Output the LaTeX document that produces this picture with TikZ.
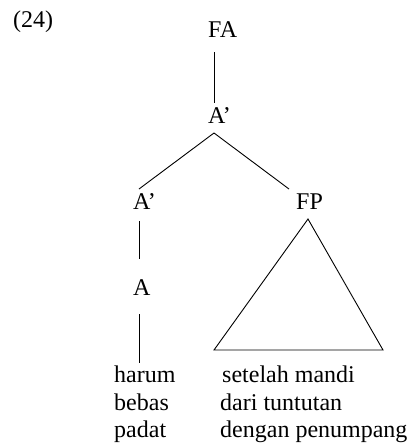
\documentclass[tikz,border=0pt]{standalone}
\usepackage{fontspec}
\setmainfont{Liberation Serif}
\begin{document}
\begin{tikzpicture}[x=1pt,y=-1pt,
  lbl/.style={inner sep=0pt,anchor=base west,font=\fontsize{24}{28}\selectfont},
  edge/.style={line width=0.9pt}]
\useasboundingbox (0,0) rectangle (418,445);
\node[lbl] (num) at (13,27) {(24)};
\node[lbl] (fa) at (208,37) {FA};
\node[lbl] (ap1) at (208,123) {A’};
\node[lbl] (ap2) at (133,209) {A’};
\node[lbl] (fp) at (296,209) {FP};
\node[lbl] (a) at (133,295) {A};
\node[lbl] (w1) at (114,382) {harum};
\node[lbl] (w2) at (114,410) {bebas};
\node[lbl] (w3) at (114,437) {padat};
\node[lbl] (p1) at (222,382) {setelah mandi};
\node[lbl] (p2) at (220,410) {dari tuntutan};
\node[lbl] (p3) at (220,437) {dengan penumpang};
% connector end points
\coordinate (fab) at (214,52);
\coordinate (ap1t) at (214,103);
\coordinate (ap1b) at (214,133);
\coordinate (ap2t) at (139,189);
\coordinate (fpt) at (289,189);
\coordinate (ap2b) at (139,221);
\coordinate (at) at (139,259);
\coordinate (ab) at (139,314);
\coordinate (w1t) at (139,363);
\coordinate (tri1) at (308,219);
\coordinate (tri2) at (214,350);
\coordinate (tri3) at (383,350);
\draw[edge] (fab) -- (ap1t);
\draw[edge] (ap2t) -- (ap1b) -- (fpt);
\draw[edge] (ap2b) -- (at);
\draw[edge] (ab) -- (w1t);
\draw[edge,line join=miter] (tri1) -- (tri2) -- (tri3) -- cycle;
\end{tikzpicture}
\end{document}
